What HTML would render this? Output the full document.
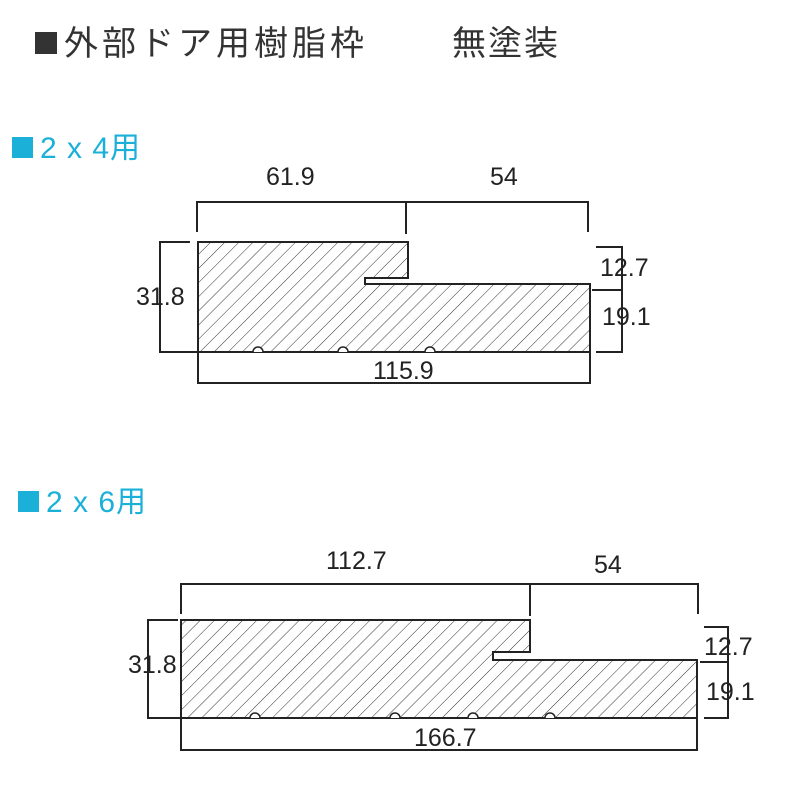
<!DOCTYPE html>
<html><head><meta charset="utf-8"><style>
body{margin:0;background:#fff;}
svg text{font-family:"Liberation Sans","Noto Sans CJK JP",sans-serif;}
</style></head><body>
<svg width="800" height="800" viewBox="0 0 800 800" xmlns="http://www.w3.org/2000/svg">
<defs>
<pattern id="h" patternUnits="userSpaceOnUse" width="10" height="10" patternTransform="rotate(45)">
<line x1="0" y1="0" x2="0" y2="10" stroke="#333" stroke-width="1"/>
</pattern>
</defs>
<rect x="35" y="32" width="22" height="22" fill="#333"/>
<text x="64" y="55" font-size="34" fill="#333" letter-spacing="4">外部ドア用樹脂枠</text>
<text x="452" y="55" font-size="34" fill="#333" letter-spacing="2">無塗装</text>
<rect x="12" y="137" width="21" height="21" fill="#1ab0d8"/>
<text x="40" y="158" font-size="30" fill="#1ab0d8" letter-spacing="1">2 x 4用</text>
<rect x="18" y="491" width="21" height="21" fill="#1ab0d8"/>
<text x="46" y="512" font-size="30" fill="#1ab0d8" letter-spacing="1">2 x 6用</text>

<g stroke="#222" stroke-width="2" fill="none">
<path d="M198,242 H408 V278 H365 V284 H590 V352 H198 Z" fill="url(#h)"/>
<path d="M197,232 V202 H588 V232 M406,202 V234"/>
<path d="M198,352 V383 H590 V352"/>
<path d="M190,242 H160 V352 H198"/>
<path d="M596,247 H622 V352 H596 M592,290 H622"/>
<path d="M181,620 H530 V652 H493 V660 H697 V718 H181 Z" fill="url(#h)"/>
<path d="M181,614 V584 H698 V614 M530,584 V616"/>
<path d="M181,718 V750 H697 V718"/>
<path d="M178,620 H148 V718 H181"/>
<path d="M704,627 H728 V718 H704 M700,662 H728"/>
</g>
<g fill="#fff" stroke="#222" stroke-width="1.5">
<path d="M253,352 a5,5 0 0 1 10,0"/><path d="M338,352 a5,5 0 0 1 10,0"/><path d="M425,352 a5,5 0 0 1 10,0"/>
<path d="M250,718 a5,5 0 0 1 10,0"/><path d="M390,718 a5,5 0 0 1 10,0"/><path d="M468,718 a5,5 0 0 1 10,0"/><path d="M545,718 a5,5 0 0 1 10,0"/>
</g>
<g font-size="25" fill="#222">
<text x="266" y="185">61.9</text>
<text x="490" y="185">54</text>
<text x="136" y="305">31.8</text>
<text x="600" y="276">12.7</text>
<text x="602" y="325">19.1</text>
<text x="373" y="379">115.9</text>
<text x="326" y="569">112.7</text>
<text x="594" y="573">54</text>
<text x="128" y="673">31.8</text>
<text x="704" y="655">12.7</text>
<text x="706" y="700">19.1</text>
<text x="414" y="746">166.7</text>
</g>
</svg>
</body></html>
